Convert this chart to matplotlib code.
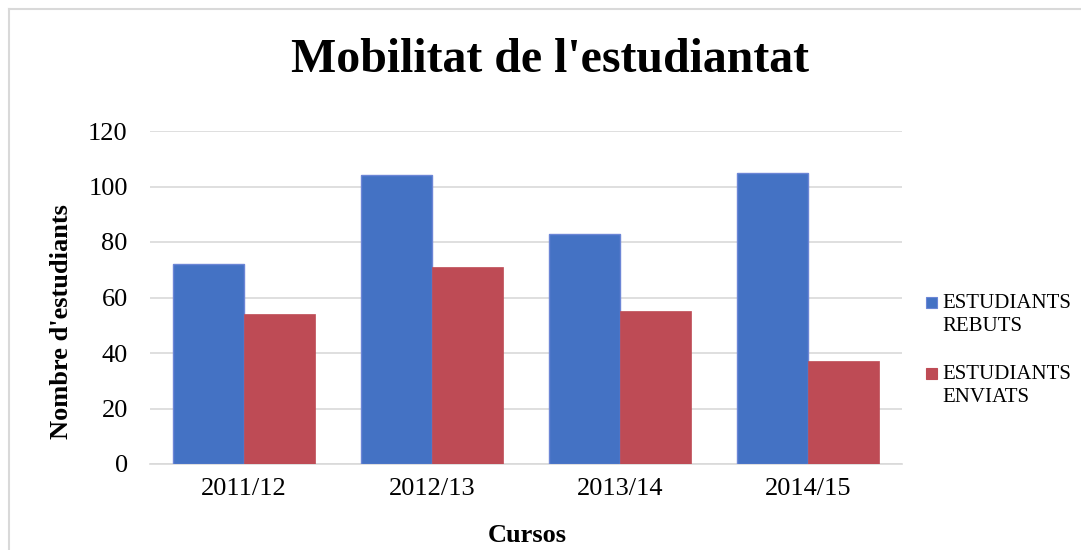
import matplotlib
matplotlib.use("Agg")
import matplotlib.pyplot as plt
import numpy as np
from matplotlib.lines import Line2D
from matplotlib.patches import Rectangle

categories = ["2011/12", "2012/13", "2013/14", "2014/15"]
rebuts = [72, 104, 83, 105]
enviats = [54, 71, 55, 37]
series_names = ["ESTUDIANTS\nREBUTS", "ESTUDIANTS\nENVIATS"]
yticks = [0, 20, 40, 60, 80, 100, 120]

plt.rcParams['font.family'] = ['Liberation Serif', 'DejaVu Serif']

colors = ["#4472C4", "#BE4B55"]
edges = ["#6c86d6", "#BE4B55"]

fig = plt.figure(figsize=(10.81, 5.5), dpi=100)
W, H = 1081, 550
ax = fig.add_axes([150 / W, 1 - 464 / H, (902 - 150) / W, (464 - 131) / H])

x = np.arange(len(categories))
bw = 0.377
ax.bar(x - bw / 2, rebuts, bw, color=colors[0], edgecolor=edges[0], linewidth=1.0, zorder=3)
ax.bar(x + bw / 2, enviats, bw, color=colors[1], edgecolor=edges[1], linewidth=0.5, zorder=3)

ax.set_xlim(-0.5, len(categories) - 0.5)
ax.set_ylim(0, 120)
ax.set_yticks(yticks)
ax.set_xticks(x)
ax.set_xticklabels(categories)
ax.yaxis.grid(True, color="#d9d9d9", linewidth=1.2, zorder=0)
ax.set_axisbelow(True)
for s in ["top", "right", "left"]:
    ax.spines[s].set_visible(False)
ax.spines["bottom"].set_color("#d9d9d9")
ax.spines["bottom"].set_linewidth(1.2)
ax.tick_params(axis="both", length=0, labelsize=19, colors="black")
ax.tick_params(axis="y", pad=16)
ax.tick_params(axis="x", pad=10)

fig.text(527 / W, 1 - 535 / H, "Cursos", ha="center", va="center",
         fontsize=19, fontweight="bold")
fig.text(62 / W, 1 - 322 / H, "Nombre d'estudiants", ha="center", va="center",
         rotation=90, fontsize=19, fontweight="bold")

fig.text(550 / W, 1 - 60 / H, "Mobilitat de l'estudiantat", ha="center", va="center",
         fontsize=34.5, fontweight="bold")

# legend (manual, markers aligned with first text line)
leg_rows = [302, 373]
for name, c, e, yy in zip(series_names, colors, edges, leg_rows):
    fig.add_artist(Rectangle((926 / W, 1 - (yy + 5.5) / H), 11 / W, 11 / H,
                             facecolor=c, edgecolor=e, linewidth=0.8,
                             transform=fig.transFigure))
    fig.text(942 / W, 1 - (yy - 8) / H, name, ha="left", va="top",
             fontsize=15, linespacing=1.32)

# outer frame (top and left visible)
fig.add_artist(Line2D([9 / W, 1], [1 - 9 / H, 1 - 9 / H], color="#d9d9d9", linewidth=1.5,
                      transform=fig.transFigure))
fig.add_artist(Line2D([9 / W, 9 / W], [0, 1 - 9 / H], color="#d9d9d9", linewidth=1.5,
                      transform=fig.transFigure))

fig.savefig("out.png", dpi=100)
